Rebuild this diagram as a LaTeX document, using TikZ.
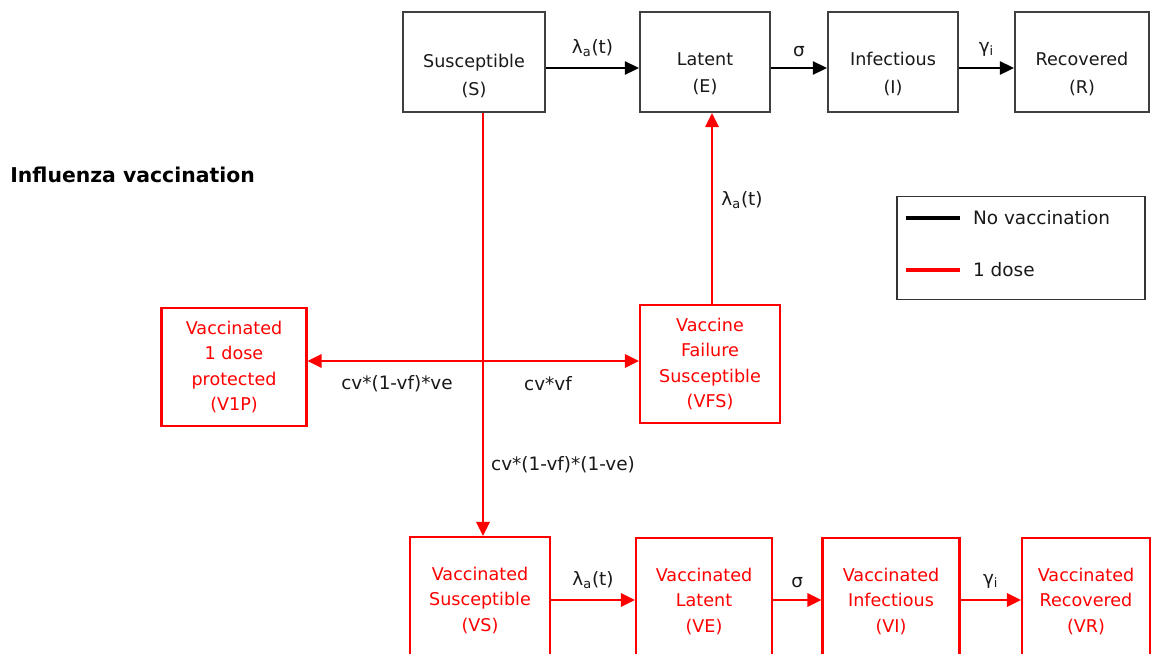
\documentclass[tikz,border=0pt]{standalone}
\usepackage{fontspec}
\setmainfont{DejaVu Sans}
\usetikzlibrary{arrows.meta,calc}
\begin{document}
\begin{tikzpicture}[x=0.02cm,y=-0.02cm,
  bbox/.style={draw=black!75,line width=1.2pt,rectangle,inner sep=0pt},
  rbox/.style={draw=red,line width=1.2pt,rectangle,inner sep=0pt,text=red,align=center,font=\fontsize{10}{14.5}\selectfont},
  btxt/.style={align=center,font=\fontsize{10}{15.5}\selectfont,text=black!90,inner sep=0pt},
  lbl/.style={font=\fontsize{10.5}{12}\selectfont,inner sep=1pt,text=black!90},
  tip/.style={Triangle[length=8pt,width=7.5pt]},
  barrow/.style={draw=black,line width=1.2pt,-{Triangle[length=8pt,width=7.5pt]}},
  rarrow/.style={draw=red,line width=1.4pt,-{Triangle[length=8pt,width=7.5pt]}},
  rdarrow/.style={draw=red,line width=1.4pt,{Triangle[length=8pt,width=7.5pt]}-{Triangle[length=8pt,width=7.5pt]}}]
\clip (0,0) rectangle (1155,653);
\fill[white] (0,0) rectangle (1155,653);

% top row
\node[bbox,minimum width=142*0.02cm,minimum height=100*0.02cm] (S) at (474,62) {};
\node[bbox,minimum width=130*0.02cm,minimum height=100*0.02cm] (E) at (705,62) {};
\node[bbox,minimum width=130*0.02cm,minimum height=100*0.02cm] (I) at (893,62) {};
\node[bbox,minimum width=134*0.02cm,minimum height=100*0.02cm] (R) at (1082,62) {};
\node[btxt] (St) at (474,76) {Susceptible\\(S)};
\node[btxt] (Et) at (705,74) {Latent\\(E)};
\node[btxt] (It) at (893,74) {Infectious\\(I)};
\node[btxt] (Rt) at (1082,74) {Recovered\\(R)};

\draw[barrow] ($(S.east)+(0,6)$) -- ($(E.west)+(0,6)$) node[lbl,midway,above=5pt] (l1) {λ\textsubscript{a}(t)};
\draw[barrow] ($(E.east)+(0,6)$) -- ($(I.west)+(0,6)$) node[lbl,midway,above=5pt] (l2) {σ};
\draw[barrow] ($(I.east)+(0,6)$) -- ($(R.west)+(0,6)$) node[lbl,midway,above=5pt] (l3) {γ\textsubscript{i}};

% title
\node[anchor=west,font=\fontsize{11.6}{13}\selectfont\bfseries,inner sep=0pt] (title) at (10,175) {Influenza vaccination};

% legend
\node[draw=black!80,line width=1.1pt,minimum width=248*0.02cm,minimum height=103*0.02cm,inner sep=0pt] (leg) at (1021,248) {};
\coordinate (la1) at (906,218);
\coordinate (lb1) at (960,218);
\coordinate (la2) at (906,270);
\coordinate (lb2) at (960,270);
\draw[black,line width=1.8pt] (la1) -- (lb1);
\draw[red,line width=1.8pt] (la2) -- (lb2);
\node[lbl,anchor=west] (lt1) at (971,218) {No vaccination};
\node[lbl,anchor=west] (lt2) at (971,270) {1 dose};

% middle row
\node[rbox,minimum width=145*0.02cm,minimum height=118*0.02cm] (V1P) at (234,367) {Vaccinated\\1 dose\\protected\\(V1P)};
\node[rbox,minimum width=140*0.02cm,minimum height=118*0.02cm] (VFS) at (710,364) {Vaccine\\Failure\\Susceptible\\(VFS)};

% bottom row
\node[rbox,minimum width=140*0.02cm,minimum height=126*0.02cm] (VS) at (480,600) {Vaccinated\\Susceptible\\(VS)};
\node[rbox,minimum width=136*0.02cm,minimum height=126*0.02cm] (VE) at (704,601) {Vaccinated\\Latent\\(VE)};
\node[rbox,minimum width=137*0.02cm,minimum height=126*0.02cm] (VI) at (891,601) {Vaccinated\\Infectious\\(VI)};
\node[rbox,minimum width=128*0.02cm,minimum height=126*0.02cm] (VR) at (1086,601) {Vaccinated\\Recovered\\(VR)};

% red connectors
\coordinate (vx) at (483,0);
\coordinate (hy) at (0,361);
\coordinate (fx) at (712,0);
\draw[rarrow] (S.south -| vx) -- (VS.north -| vx);
\draw[rdarrow] (V1P.east |- hy) -- (VFS.west |- hy);
\draw[rarrow] (VFS.north -| fx) -- (E.south -| fx);
\node[lbl] (c1) at (397,384) {cv*(1-vf)*ve};
\node[lbl] (c2) at (548,384) {cv*vf};
\node[lbl,anchor=west] (c3) at (489,465) {cv*(1-vf)*(1-ve)};
\node[lbl] (c4) at (742,200) {λ\textsubscript{a}(t)};

\draw[rarrow] (VS.east |- 0,600) -- (VE.west |- 0,600) node[lbl,midway,above=5pt] (m1) {λ\textsubscript{a}(t)};
\draw[rarrow] (VE.east |- 0,600) -- (VI.west |- 0,600) node[lbl,midway,above=5pt] (m2) {σ};
\draw[rarrow] (VI.east |- 0,600) -- (VR.west |- 0,600) node[lbl,midway,above=5pt] (m3) {γ\textsubscript{i}};
\end{tikzpicture}
\end{document}
